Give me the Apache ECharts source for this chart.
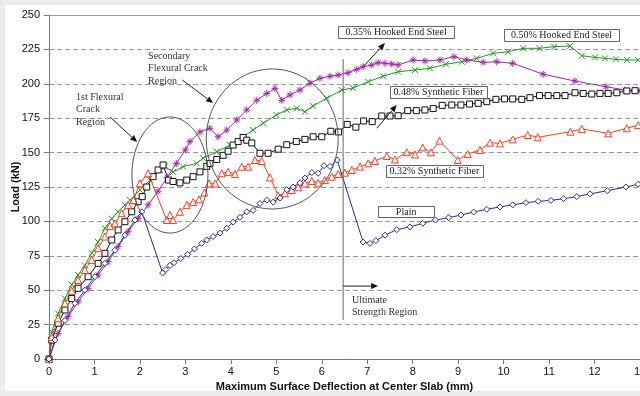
<!DOCTYPE html>
<html><head><meta charset="utf-8">
<script src="https://cdn.jsdelivr.net/npm/echarts@6/dist/echarts.min.js"></script>
<style>
html,body{margin:0;padding:0;background:#ececec;}
#panel{position:absolute;left:5px;top:5px;width:635px;height:386px;background:#fff;}
#c{position:absolute;left:0;top:0;width:640px;height:396px;}
</style>
</head><body><div id="panel"></div><div id="c"></div>
<script>
// ---- data (deflection mm, load kN) ----
const xTickLabels = ['0','1','2','3','4','5','6','7','8','9','10','11','12','13'];
const yTickLabels = ['0','25','50','75','100','125','150','175','200','225','250'];

const plainX = [0,0.13,0.35,0.57,0.79,1.01,1.23,1.45,1.67,1.89,2.04,2.5,2.57,2.66,2.75,2.9,3.05,3.2,3.36,3.47,3.61,3.76,3.91,4.05,4.2,4.35,4.49,4.64,4.79,4.93,5.08,5.23,5.37,5.52,5.63,5.78,5.92,6.05,6.18,6.34,6.91,7.06,7.19,7.39,7.65,7.94,8.22,8.5,8.79,9.06,9.34,9.63,9.92,10.2,10.49,10.76,11.04,11.32,11.61,11.9,12.28,12.69,12.96];
const plainY = [0,13.8,28,40.5,50,59.8,69.5,79,90,101,107,62.5,65,68,70,73,76,80,84,86.5,89,91.5,95,99.5,103,107,108,113,115.5,114,117,123,125,128,131.5,135.5,135,140.5,140,144.6,85,84,86,90,94,96,98.6,101,102.7,104.6,106.8,108.8,110.5,112,113.6,114.6,115.3,116.5,118,120,122.3,125,127];

const syn48X = [0,0.06,0.2,0.35,0.5,0.64,0.86,1.08,1.23,1.38,1.52,1.67,1.82,1.96,2.05,2.15,2.29,2.4,2.51,2.63,2.73,2.88,3.03,3.17,3.32,3.47,3.54,3.69,3.83,3.94,4.05,4.16,4.27,4.35,4.46,4.64,4.82,5.04,5.23,5.44,5.63,5.81,6.0,6.2,6.37,6.56,6.75,6.92,7.11,7.32,7.5,7.68,7.89,8.08,8.27,8.45,8.65,8.86,9.06,9.25,9.44,9.63,9.83,10.02,10.2,10.4,10.58,10.79,10.98,11.17,11.35,11.57,11.75,11.94,12.12,12.3,12.49,12.71,12.89,13.08];
const syn48Y = [0,13.8,26,35.6,44,51.4,59.8,69.5,76.8,86.5,93.8,99.8,107,114.3,118,125,132.5,137.4,141,130,129,128,130,132.5,136,140,142,145,148,151,155.5,158,161,159,157,149.5,149.5,152.5,155.7,158,159.6,161.5,161.5,165.5,165,170.5,168.5,173,172.5,176.6,176.6,176.8,180.5,180.5,181,182,184.3,184.6,184.6,185.3,185.8,187,188.7,189,189,188.7,189.9,191.4,191.4,191.4,191.4,193.5,193,192.6,193,193,193.5,194.8,195,195];

const syn32X = [0,0.06,0.2,0.35,0.5,0.64,0.79,0.94,1.08,1.23,1.34,1.45,1.6,1.74,1.86,2.0,2.18,2.59,2.66,2.73,2.88,3.03,3.17,3.3,3.42,3.52,3.66,3.8,3.94,4.09,4.24,4.38,4.53,4.68,4.86,5.04,5.19,5.34,5.48,5.63,5.78,5.92,6.07,6.22,6.36,6.51,6.66,6.84,7.02,7.17,7.43,7.61,7.87,8.05,8.22,8.4,8.59,8.99,9.21,9.48,9.7,9.92,10.2,10.53,10.75,11.47,11.72,12.3,12.71,12.96];
const syn32Y = [0,16,29.6,40.5,49.6,57.4,64.7,72,80.5,89,96.7,98.6,106,112,115.5,127.7,135,101,104.6,101,107,112,114,116,121,127.6,127.6,135,136,134.4,139.8,139.8,144.6,143.9,132,119,120.4,122.8,124.8,127.6,129.4,128.1,130,132.5,134.4,135.4,137.4,139.8,142.2,143.9,147.5,145,150.3,148.6,153.8,150.2,158.7,144.6,149,151.9,157.2,156.7,159.6,162.8,161.1,165.2,167.2,164,167.7,170];

const hook50X = [0,0.06,0.2,0.35,0.5,0.64,0.79,0.94,1.08,1.23,1.38,1.52,1.67,1.78,2.0,2.22,2.44,2.55,2.73,2.95,3.25,3.39,3.69,3.98,4.27,4.49,4.71,5.0,5.23,5.45,5.63,5.81,6.11,6.44,6.69,7.02,7.35,7.68,8.05,8.38,8.73,9.08,9.41,9.77,10.1,10.43,10.79,11.11,11.46,11.72,12.01,12.23,12.47,12.71,12.96];
const hook50Y = [0,19.9,33,44,54,61,68,77,85,95,102,107,112,115.5,122.8,130,137.4,139.8,136,139.8,142.2,145.9,150.6,155.5,161.5,166.4,171.3,177.3,181,182.2,179.7,183.9,189.5,195.5,197,201.5,205.5,208.8,210,211.3,214.2,216,218.5,222.1,223.3,225.8,225.8,227,227.5,220.4,219.2,218.5,217.8,217.3,217.3];

const hook35X = [0,0.2,0.42,0.64,0.86,1.08,1.3,1.52,1.74,1.96,2.18,2.4,2.6,2.8,3.0,3.1,3.32,3.54,3.72,3.91,4.13,4.35,4.57,4.79,4.97,5.12,5.3,5.52,5.74,5.96,6.18,6.36,6.58,6.77,6.91,7.1,7.24,7.39,7.54,7.68,8.01,8.27,8.6,8.91,9.19,9.55,9.85,10.2,10.87,11.57,12.25,12.67,13.0];
const hook35Y = [0,18.6,30.7,41.6,51.4,61,70.7,81.6,92.5,102,112,122,132,142,152,158,165,167.7,161.5,166.4,173.7,181,188,193,196.7,188,191.9,195.5,200.4,204,205.5,206.4,208,210.5,212.4,213.7,215.3,214.9,214.4,213.7,217.3,216.6,217.3,219.7,217.3,215.6,216,214.9,207,202,197.9,195.5,195];

// ---- annotation anchors (data coordinates) ----
const labelBoxes = [
  {text:'0.35% Hooked End Steel', x:6.36, y:242, w:116, h:12},
  {text:'0.50% Hooked End Steel', x:10.01, y:239.8, w:115, h:12},
  {text:'0.48% Synthetic Fiber', x:7.5, y:198.4, w:97, h:12},
  {text:'0.32% Synthetic Fiber', x:7.41, y:141, w:97, h:12},
  {text:'Plain', x:7.24, y:111.2, w:56, h:11}
];
const noteTexts = [
  {text:'1st Flexural\nCrack\nRegion', x:0.594, y:194.9},
  {text:'Secondary\nFlexural Crack\nRegion', x:2.18, y:224.7},
  {text:'Ultimate\nStrength Region', x:6.665, y:47.4}
];
const arrows = [
  [[1.34,175.9],[1.94,157.7]],
  [[2.93,202.8],[3.61,186]],
  [[6.91,212.4],[7.39,229.6]],
  [[7.21,167.7],[7.65,184.6]],
  [[6.47,53],[7.24,53]]
];
const vLine = [[6.47,28.3],[6.47,218]];
const ellipses = [
  {cx:2.66, cy:133.7, rx:0.836, ry:42.2},
  {cx:4.91, cy:159.9, rx:1.452, ry:50.9}
];

function pairs(xs, ys){ return xs.map((x,i)=>[x, ys[i]]); }

const XSYM = 'path://M0,0L10,10M10,0L0,10';
const STAR = 'path://M5,0L5,10M0,5L10,5M1.5,1.5L8.5,8.5M8.5,1.5L1.5,8.5';

function mk(name, data, color, symbol, size, hollow){
  return {
    name, type:'line', data, symbol, symbolSize:size, showSymbol:true,
    animation:false,
    lineStyle:{color, width:1},
    itemStyle:{color: hollow ? '#fff' : color, borderColor:color, borderWidth:1},
    emphasis:{disabled:true}
  };
}

const chart = echarts.init(document.getElementById('c'), null, {renderer:'canvas'});
const axisFont = {fontFamily:'Liberation Sans, Arial, sans-serif', fontSize:11, color:'#111'};
chart.setOption({
  backgroundColor:'transparent',
  animation:false,
  grid:{left:49, right:0, top:15, bottom:37, containLabel:false, outerBoundsMode:'none'},
  xAxis:[{
    type:'value', min:0, max:13, interval:1,
    axisLine:{onZero:false, lineStyle:{color:'#777', width:1}},
    axisTick:{show:true, length:5, lineStyle:{color:'#777'}},
    axisLabel:Object.assign({margin:7, formatter:(v)=>xTickLabels[Math.round(v)]}, axisFont),
    splitLine:{show:false},
    name:'Maximum Surface Deflection at Center Slab (mm)',
    nameLocation:'middle', nameGap:17,
    nameTextStyle:{fontFamily:'Liberation Sans, Arial, sans-serif', fontSize:11, fontWeight:'bold', color:'#111'}
  },{
    type:'value', min:0, max:13, position:'top',
    axisLine:{show:true, onZero:false, lineStyle:{color:'#999'}},
    axisTick:{show:false}, axisLabel:{show:false}, splitLine:{show:false}
  }],
  yAxis:{
    type:'value', min:0, max:250, interval:25,
    axisLine:{show:true, onZero:false, lineStyle:{color:'#777', width:1}},
    axisTick:{show:true, length:5, lineStyle:{color:'#777'}},
    axisLabel:Object.assign({margin:9, formatter:(v)=>yTickLabels[Math.round(v/25)]}, axisFont),
    splitLine:{show:true, lineStyle:{color:'#999', type:[5,3], width:1}},
    name:'Load (kN)', nameLocation:'middle', nameGap:28, nameMoveOverlap:false,
    nameTextStyle:{fontFamily:'Liberation Sans, Arial, sans-serif', fontSize:11, fontWeight:'bold', color:'#111'}
  },
  series:[
    mk('0.50% Hooked End Steel', pairs(hook50X, hook50Y), '#1f9a1f', XSYM, 6, false),
    mk('0.35% Hooked End Steel', pairs(hook35X, hook35Y), '#a227a8', STAR, 7, false),
    mk('0.48% Synthetic Fiber', pairs(syn48X, syn48Y), '#111111', 'rect', 6, true),
    mk('0.32% Synthetic Fiber', pairs(syn32X, syn32Y), '#ff3b1a', 'triangle', 7, true),
    mk('Plain', pairs(plainX, plainY), '#25309a', 'diamond', 6, true)
  ]
});

// ---- annotations placed through the chart's own scales ----
function P(pt){ return chart.convertToPixel({gridIndex:0}, pt); }
const serif = '10px "Liberation Serif", "Times New Roman", serif';
const g = [];
ellipses.forEach(e=>{
  const c = P([e.cx, e.cy]);
  const r1 = P([e.cx+e.rx, e.cy]);
  const r2 = P([e.cx, e.cy+e.ry]);
  g.push({type:'ellipse', shape:{cx:c[0], cy:c[1], rx:Math.abs(r1[0]-c[0]), ry:Math.abs(c[1]-r2[1])},
    style:{fill:'none', stroke:'#555', lineWidth:1}, z:50});
});
{
  const a = P(vLine[0]), b = P(vLine[1]);
  g.push({type:'line', shape:{x1:a[0], y1:a[1], x2:b[0], y2:b[1]}, style:{stroke:'#666', lineWidth:1}, z:50});
}
arrows.forEach(ar=>{
  const a = P(ar[0]), b = P(ar[1]);
  const dx = b[0]-a[0], dy = b[1]-a[1], L = Math.hypot(dx,dy);
  const ux = dx/L, uy = dy/L, hl = 7, hw = 3;
  const bx = b[0]-ux*hl, by = b[1]-uy*hl;
  g.push({type:'line', shape:{x1:a[0], y1:a[1], x2:bx, y2:by}, style:{stroke:'#222', lineWidth:1}, z:50});
  g.push({type:'polygon', shape:{points:[[b[0],b[1]],[bx-uy*hw, by+ux*hw],[bx+uy*hw, by-ux*hw]]}, style:{fill:'#111'}, z:50});
});
noteTexts.forEach(t=>{
  const p = P([t.x, t.y]);
  g.push({type:'text', x:p[0], y:p[1], style:{text:t.text, font:serif, fill:'#333', lineHeight:12.5, verticalAlign:'top', align:'left'}, z:60});
});
labelBoxes.forEach(b=>{
  const p = P([b.x, b.y]);
  g.push({type:'rect', shape:{x:Math.round(p[0])+0.5, y:Math.round(p[1])+0.5, width:b.w, height:b.h},
    style:{fill:'#fff', stroke:'#666', lineWidth:1}, z:60});
  g.push({type:'text', x:p[0]+b.w/2, y:p[1]+b.h/2+0.5, style:{text:b.text, font:serif, fill:'#222', align:'center', verticalAlign:'middle'}, z:61});
});
chart.setOption({graphic:{elements:g}});
</script>
</body></html>
